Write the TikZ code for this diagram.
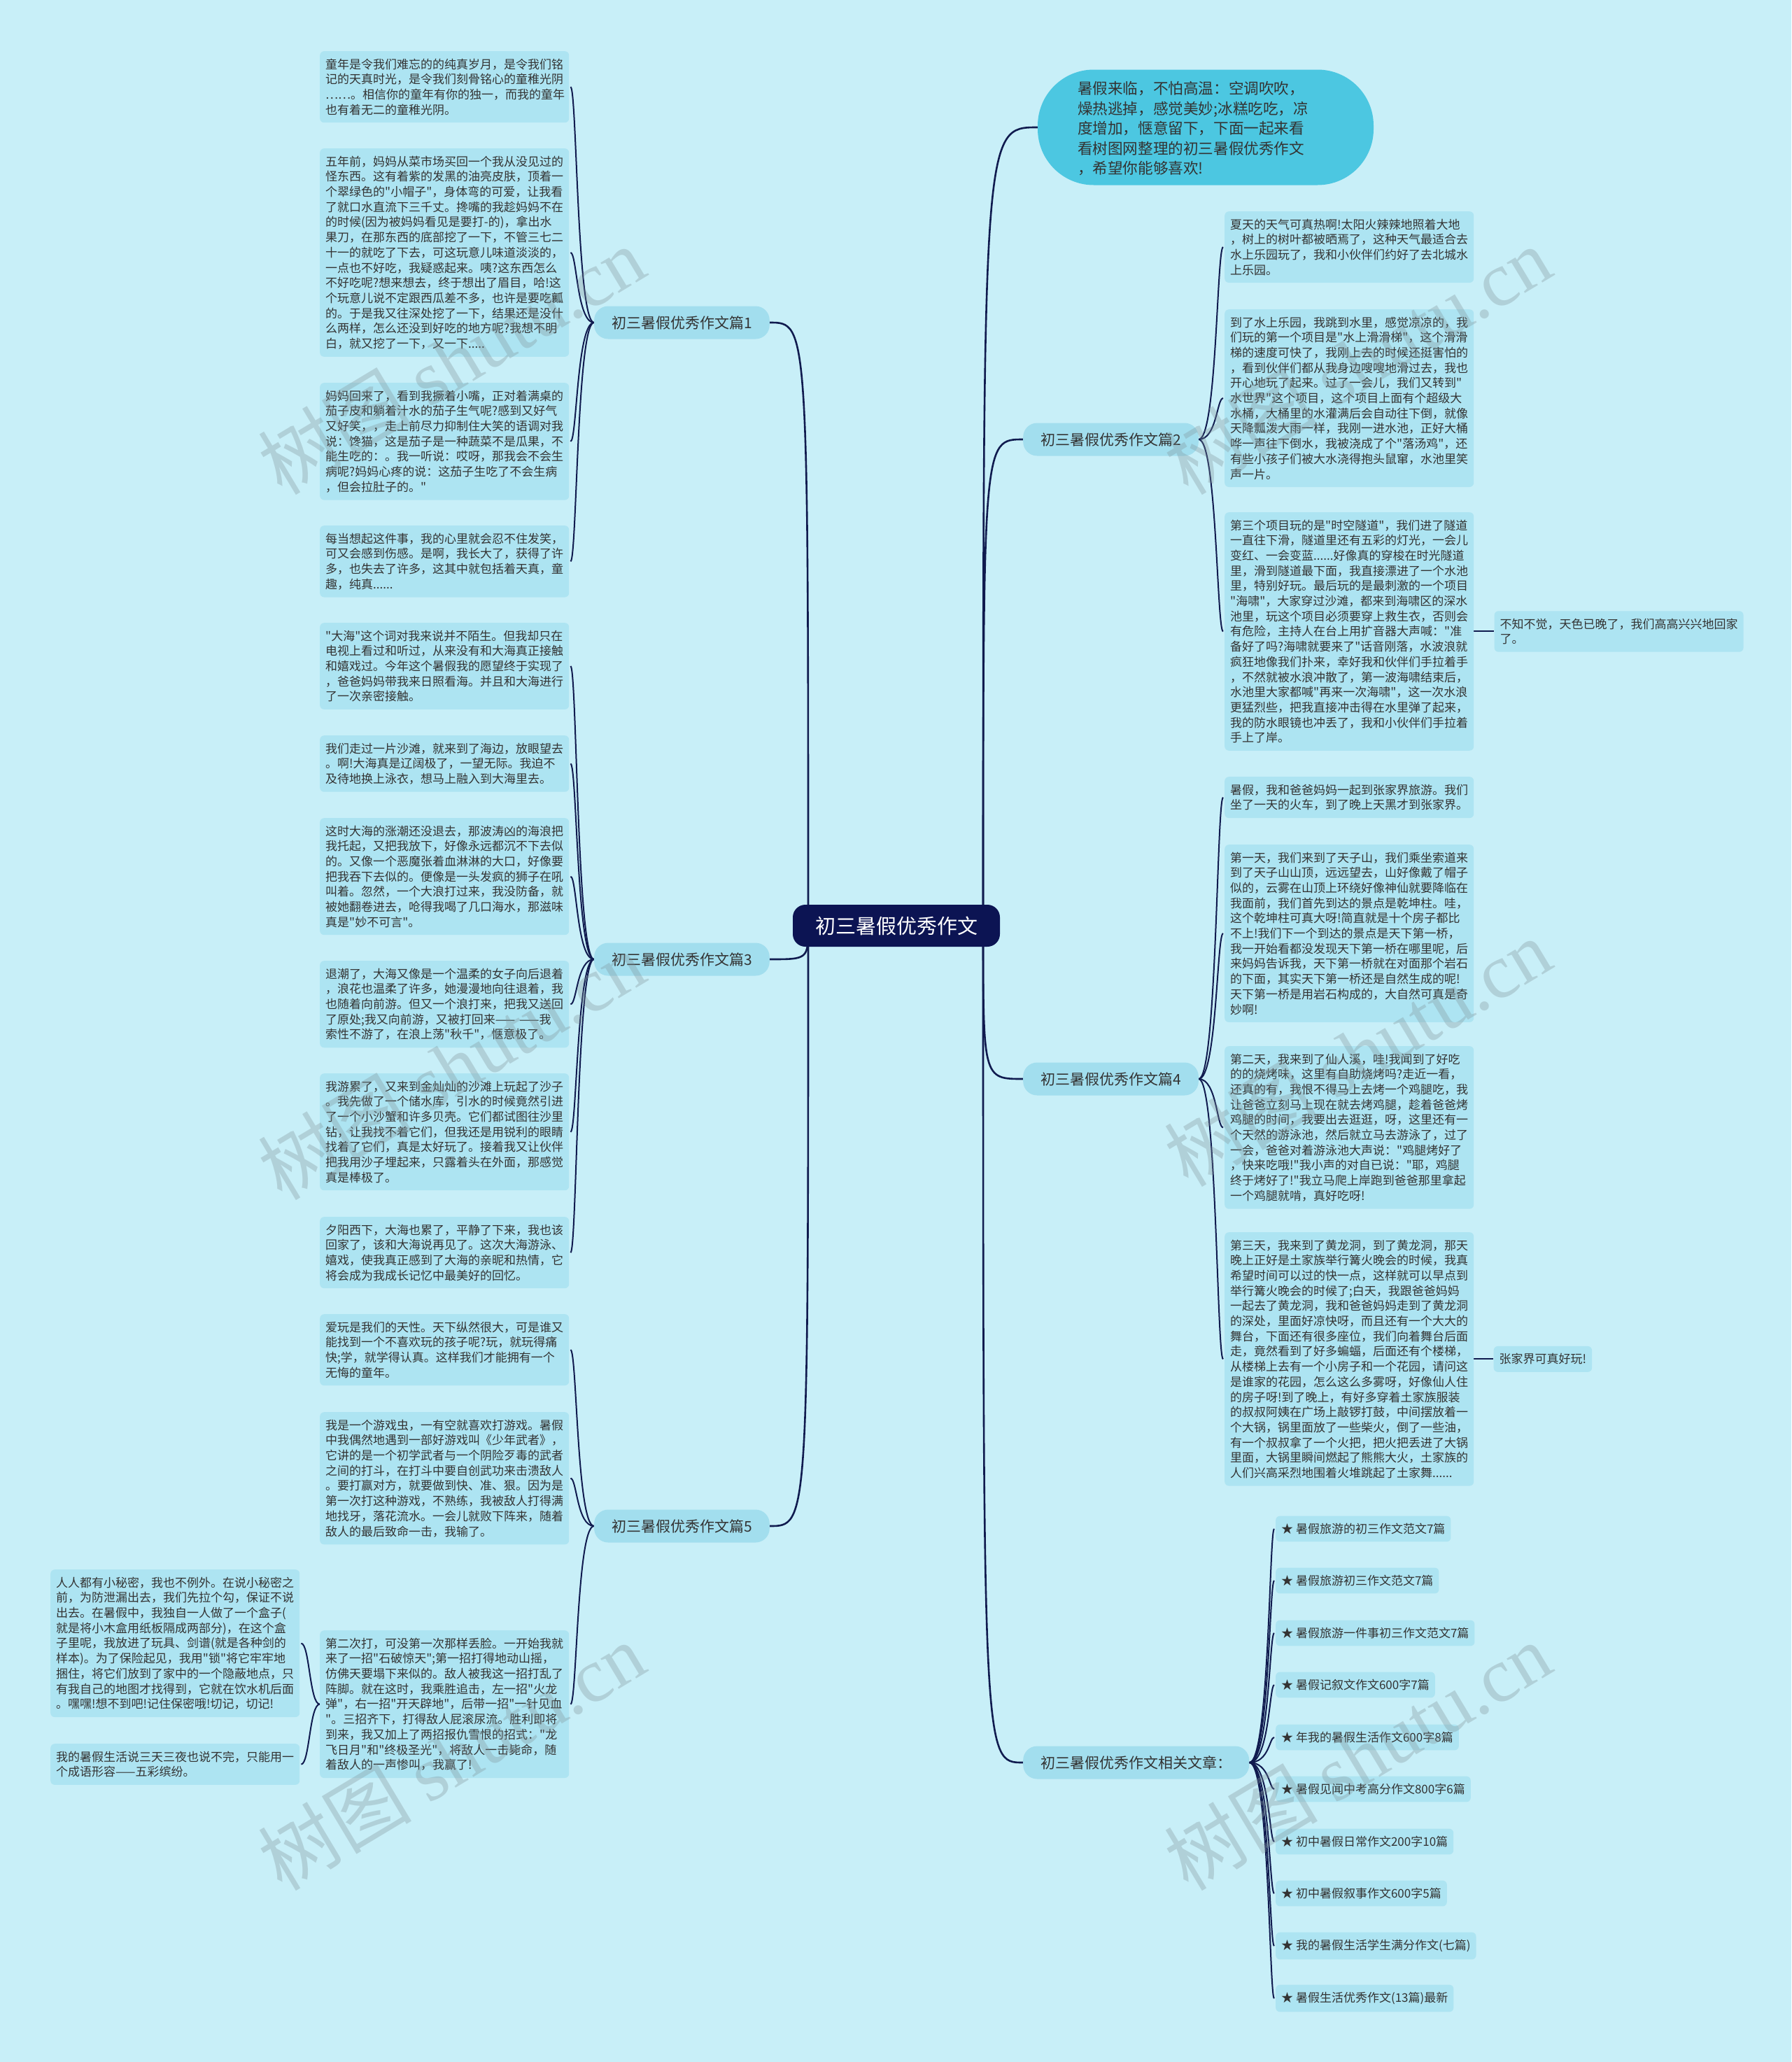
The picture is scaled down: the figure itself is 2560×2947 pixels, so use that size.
\documentclass[tikz,border=0pt]{standalone}
\usepackage{fontspec}
\newfontfamily\cjk{Noto Sans CJK SC}
\newfontfamily\wmserif{Liberation Serif}
\usetikzlibrary{calc}
\definecolor{bgc}{HTML}{C8EFF8}
\definecolor{boxc}{HTML}{ADE4F2}
\definecolor{brc}{HTML}{A2DEEE}
\definecolor{bubc}{HTML}{4CC7E1}
\definecolor{navy}{HTML}{0C1453}
\definecolor{linec}{HTML}{101B4F}
\definecolor{txtc}{HTML}{333333}
\definecolor{wmc}{HTML}{7F9197}
\pgfdeclarelayer{bgl}
\pgfdeclarelayer{lines}
\pgfsetlayers{bgl,lines,main}
\begin{document}
\begin{tikzpicture}[x=1pt,y=-1pt,
 tb/.style={fill=boxc, rounded corners=6pt, text width=340pt, align=left, inner xsep=8pt, inner ysep=10.5pt, font=\cjk\fontsize{17}{21.7}\selectfont, text=txtc, anchor=north west},
 it/.style={fill=boxc, rounded corners=6pt, inner xsep=8pt, inner ysep=10.5pt, font=\cjk\fontsize{17}{21.7}\selectfont, text=txtc, anchor=west},
 br/.style={fill=brc, rounded corners=20pt, minimum height=47pt, inner xsep=25pt, inner ysep=4pt, font=\cjk\fontsize{21}{25}\selectfont, text=txtc},
 cen/.style={fill=navy, rounded corners=18pt, minimum height=60pt, inner xsep=32pt, font=\cjk\fontsize{29}{34}\selectfont, text=white},
 bub/.style={fill=bubc, rounded corners=80pt, minimum width=480pt, minimum height=165pt},
 mainl/.style={draw=linec, line width=2.6pt},
 subl/.style={draw=linec, line width=2pt},
 wm/.style={text=wmc, opacity=0.32, font=\cjk\fontsize{110}{120}\selectfont, rotate=31}
]
\begin{pgfonlayer}{bgl}
\fill[bgc] (0,0) rectangle (2560,2947);
\end{pgfonlayer}
\useasboundingbox (0,0) rectangle (2560,2947);

% centre and branches
\node[cen] (C) at (1281,1323) {初三暑假优秀作文};
\node[br, anchor=east] (B1) at (1100,461) {初三暑假优秀作文篇1};
\node[br, anchor=east] (B3) at (1100,1371) {初三暑假优秀作文篇3};
\node[br, anchor=east] (B5) at (1100,2181) {初三暑假优秀作文篇5};
\node[br, anchor=west] (B2) at (1462,628) {初三暑假优秀作文篇2};
\node[br, anchor=west] (B4) at (1462,1542) {初三暑假优秀作文篇4};
\node[br, anchor=west] (B6) at (1462,2519) {初三暑假优秀作文相关文章：};

% intro bubble
\node[bub] (BB) at (1723,182) {};
\node[align=left, inner sep=0pt, text=txtc, font=\cjk\fontsize{21.6}{28.5}\selectfont] (BBt) at (1705,184) {暑假来临，不怕高温：空调吹吹，\\燥热逃掉，感觉美妙;冰糕吃吃，凉\\度增加，惬意留下，下面一起来看\\看树图网整理的初三暑假优秀作文\\，希望你能够喜欢!};

% left column
\node[tb] (L1) at (457,73) {童年是令我们难忘的的纯真岁月，是令我们铭\\记的天真时光，是令我们刻骨铭心的童稚光阴\\……。相信你的童年有你的独一，而我的童年\\也有着无二的童稚光阴。};
\node[tb] (L2) at (457,212) {五年前，妈妈从菜市场买回一个我从没见过的\\怪东西。这有着紫的发黑的油亮皮肤，顶着一\\个翠绿色的"小帽子"，身体弯的可爱，让我看\\了就口水直流下三千丈。搀嘴的我趁妈妈不在\\的时候(因为被妈妈看见是要打-的)，拿出水\\果刀，在那东西的底部挖了一下，不管三七二\\十一的就吃了下去，可这玩意儿味道淡淡的，\\一点也不好吃，我疑惑起来。咦?这东西怎么\\不好吃呢?想来想去，终于想出了眉目，哈!这\\个玩意儿说不定跟西瓜差不多，也许是要吃瓤\\的。于是我又往深处挖了一下，结果还是没什\\么两样，怎么还没到好吃的地方呢?我想不明\\白，就又挖了一下，又一下.....};
\node[tb] (L3) at (457,547) {妈妈回来了，看到我撅着小嘴，正对着满桌的\\茄子皮和躺着汁水的茄子生气呢?感到又好气\\又好笑，，走上前尽力抑制住大笑的语调对我\\说：馋猫，这是茄子是一种蔬菜不是瓜果，不\\能生吃的：。我一听说：哎呀，那我会不会生\\病呢?妈妈心疼的说：这茄子生吃了不会生病\\，但会拉肚子的。"};
\node[tb] (L4) at (457,751) {每当想起这件事，我的心里就会忍不住发笑，\\可又会感到伤感。是啊，我长大了，获得了许\\多，也失去了许多，这其中就包括着天真，童\\趣，纯真......};
\node[tb] (L5) at (457,890) {"大海"这个词对我来说并不陌生。但我却只在\\电视上看过和听过，从来没有和大海真正接触\\和嬉戏过。今年这个暑假我的愿望终于实现了\\，爸爸妈妈带我来日照看海。并且和大海进行\\了一次亲密接触。};
\node[tb] (L6) at (457,1051) {我们走过一片沙滩，就来到了海边，放眼望去\\。啊!大海真是辽阔极了，一望无际。我迫不\\及待地换上泳衣，想马上融入到大海里去。};
\node[tb] (L7) at (457,1169) {这时大海的涨潮还没退去，那波涛凶的海浪把\\我托起，又把我放下，好像永远都沉不下去似\\的。又像一个恶魔张着血淋淋的大口，好像要\\把我吞下去似的。便像是一头发疯的狮子在吼\\叫着。忽然，一个大浪打过来，我没防备，就\\被她翻卷进去，呛得我喝了几口海水，那滋味\\真是"妙不可言"。};
\node[tb] (L8) at (457,1373) {退潮了，大海又像是一个温柔的女子向后退着\\，浪花也温柔了许多，她漫漫地向往退着，我\\也随着向前游。但又一个浪打来，把我又送回\\了原处;我又向前游，又被打回来—— ——我\\索性不游了，在浪上荡"秋千"，惬意极了。};
\node[tb] (L9) at (457,1534) {我游累了，又来到金灿灿的沙滩上玩起了沙子\\。我先做了一个储水库，引水的时候竟然引进\\了一个小沙蟹和许多贝壳。它们都试图往沙里\\钻，让我找不着它们，但我还是用锐利的眼睛\\找着了它们，真是太好玩了。接着我又让伙伴\\把我用沙子埋起来，只露着头在外面，那感觉\\真是棒极了。};
\node[tb] (L10) at (457,1739) {夕阳西下，大海也累了，平静了下来，我也该\\回家了，该和大海说再见了。这次大海游泳、\\嬉戏，使我真正感到了大海的亲昵和热情，它\\将会成为我成长记忆中最美好的回忆。};
\node[tb] (L11) at (457,1878) {爱玩是我们的天性。天下纵然很大，可是谁又\\能找到一个不喜欢玩的孩子呢?玩，就玩得痛\\快;学，就学得认真。这样我们才能拥有一个\\无悔的童年。};
\node[tb] (L12) at (457,2018) {我是一个游戏虫，一有空就喜欢打游戏。暑假\\中我偶然地遇到一部好游戏叫《少年武者》，\\它讲的是一个初学武者与一个阴险歹毒的武者\\之间的打斗，在打斗中要自创武功来击溃敌人\\。要打赢对方，就要做到快、准、狠。因为是\\第一次打这种游戏，不熟练，我被敌人打得满\\地找牙，落花流水。一会儿就败下阵来，随着\\敌人的最后致命一击，我输了。};
\node[tb] (L13) at (457,2330) {第二次打，可没第一次那样丢脸。一开始我就\\来了一招"石破惊天";第一招打得地动山摇，\\仿佛天要塌下来似的。敌人被我这一招打乱了\\阵脚。就在这时，我乘胜追击，左一招"火龙\\弹"，右一招"开天辟地"，后带一招"一针见血\\"。三招齐下，打得敌人屁滚尿流。胜利即将\\到来，我又加上了两招报仇雪恨的招式："龙\\飞日月"和"终极圣光"，将敌人一击毙命，随\\着敌人的一声惨叫，我赢了!};
\node[tb] (LL1) at (72,2243) {人人都有小秘密，我也不例外。在说小秘密之\\前，为防泄漏出去，我们先拉个勾，保证不说\\出去。在暑假中，我独自一人做了一个盒子(\\就是将小木盒用纸板隔成两部分)，在这个盒\\子里呢，我放进了玩具、剑谱(就是各种剑的\\样本)。为了保险起见，我用"锁"将它牢牢地\\捆住，将它们放到了家中的一个隐蔽地点，只\\有我自己的地图才找得到，它就在饮水机后面\\。嘿嘿!想不到吧!记住保密哦!切记，切记!};
\node[tb] (LL2) at (72,2492) {我的暑假生活说三天三夜也说不完，只能用一\\个成语形容——五彩缤纷。};

% right column
\node[tb] (R1) at (1750,302) {夏天的天气可真热啊!太阳火辣辣地照着大地\\，树上的树叶都被晒焉了，这种天气最适合去\\水上乐园玩了，我和小伙伴们约好了去北城水\\上乐园。};
\node[tb] (R2) at (1750,442) {到了水上乐园，我跳到水里，感觉凉凉的，我\\们玩的第一个项目是"水上滑滑梯"，这个滑滑\\梯的速度可快了，我刚上去的时候还挺害怕的\\，看到伙伴们都从我身边嗖嗖地滑过去，我也\\开心地玩了起来。过了一会儿，我们又转到"\\水世界"这个项目，这个项目上面有个超级大\\水桶，大桶里的水灌满后会自动往下倒，就像\\天降瓢泼大雨一样，我刚一进水池，正好大桶\\哗一声往下倒水，我被浇成了个"落汤鸡"，还\\有些小孩子们被大水浇得抱头鼠窜，水池里笑\\声一片。};
\node[tb] (R3) at (1750,732) {第三个项目玩的是"时空隧道"，我们进了隧道\\一直往下滑，隧道里还有五彩的灯光，一会儿\\变红、一会变蓝......好像真的穿梭在时光隧道\\里，滑到隧道最下面，我直接漂进了一个水池\\里，特别好玩。最后玩的是最刺激的一个项目\\"海啸"，大家穿过沙滩，都来到海啸区的深水\\池里，玩这个项目必须要穿上救生衣，否则会\\有危险，主持人在台上用扩音器大声喊："准\\备好了吗?海啸就要来了"话音刚落，水波浪就\\疯狂地像我们扑来，幸好我和伙伴们手拉着手\\，不然就被水浪冲散了，第一波海啸结束后，\\水池里大家都喊"再来一次海啸"，这一次水浪\\更猛烈些，把我直接冲击得在水里弹了起来，\\我的防水眼镜也冲丢了，我和小伙伴们手拉着\\手上了岸。};
\node[tb, anchor=west] (S1) at ([xshift=29pt]R3.east) {不知不觉，天色已晚了，我们高高兴兴地回家\\了。};
\node[tb] (R4) at (1750,1110) {暑假，我和爸爸妈妈一起到张家界旅游。我们\\坐了一天的火车，到了晚上天黑才到张家界。};
\node[tb] (R5) at (1750,1207) {第一天，我们来到了天子山，我们乘坐索道来\\到了天子山山顶，远远望去，山好像戴了帽子\\似的，云雾在山顶上环绕好像神仙就要降临在\\我面前，我们首先到达的景点是乾坤柱。哇，\\这个乾坤柱可真大呀!简直就是十个房子都比\\不上!我们下一个到达的景点是天下第一桥，\\我一开始看都没发现天下第一桥在哪里呢，后\\来妈妈告诉我，天下第一桥就在对面那个岩石\\的下面，其实天下第一桥还是自然生成的呢!\\天下第一桥是用岩石构成的，大自然可真是奇\\妙啊!};
\node[tb] (R6) at (1750,1495) {第二天，我来到了仙人溪，哇!我闻到了好吃\\的的烧烤味，这里有自助烧烤吗?走近一看，\\还真的有，我恨不得马上去烤一个鸡腿吃，我\\让爸爸立刻马上现在就去烤鸡腿，趁着爸爸烤\\鸡腿的时间，我要出去逛逛，呀，这里还有一\\个天然的游泳池，然后就立马去游泳了，过了\\一会，爸爸对着游泳池大声说："鸡腿烤好了\\，快来吃哦!"我小声的对自已说："耶，鸡腿\\终于烤好了!"我立马爬上岸跑到爸爸那里拿起\\一个鸡腿就啃，真好吃呀!};
\node[tb] (R7) at (1750,1761) {第三天，我来到了黄龙洞，到了黄龙洞，那天\\晚上正好是土家族举行篝火晚会的时候，我真\\希望时间可以过的快一点，这样就可以早点到\\举行篝火晚会的时候了;白天，我跟爸爸妈妈\\一起去了黄龙洞，我和爸爸妈妈走到了黄龙洞\\的深处，里面好凉快呀，而且还有一个大大的\\舞台，下面还有很多座位，我们向着舞台后面\\走，竟然看到了好多蝙蝠，后面还有个楼梯，\\从楼梯上去有一个小房子和一个花园，请问这\\是谁家的花园，怎么这么多雾呀，好像仙人住\\的房子呀!到了晚上，有好多穿着土家族服装\\的叔叔阿姨在广场上敲锣打鼓，中间摆放着一\\个大锅，锅里面放了一些柴火，倒了一些油，\\有一个叔叔拿了一个火把，把火把丢进了大锅\\里面，大锅里瞬间燃起了熊熊大火，土家族的\\人们兴高采烈地围着火堆跳起了土家舞......};
\node[it] (S2) at ([xshift=28pt]R7.east) {张家界可真好玩!};

% related articles
\node[it] (A1) at (1823,2185) {★ 暑假旅游的初三作文范文7篇};
\node[it] (A2) at (1823,2259) {★ 暑假旅游初三作文范文7篇};
\node[it] (A3) at (1823,2334) {★ 暑假旅游一件事初三作文范文7篇};
\node[it] (A4) at (1823,2408) {★ 暑假记叙文作文600字7篇};
\node[it] (A5) at (1823,2483) {★ 年我的暑假生活作文600字8篇};
\node[it] (A6) at (1823,2557) {★ 暑假见闻中考高分作文800字6篇};
\node[it] (A7) at (1823,2632) {★ 初中暑假日常作文200字10篇};
\node[it] (A8) at (1823,2706) {★ 初中暑假叙事作文600字5篇};
\node[it] (A9) at (1823,2781) {★ 我的暑假生活学生满分作文(七篇)};
\node[it] (A10) at (1823,2856) {★ 暑假生活优秀作文(13篇)最新};

% connectors
\begin{pgfonlayer}{lines}
\coordinate (CL) at (1155,1323);
\coordinate (CR) at (1405,1323);
\foreach \b in {B1,B3,B5}
  \draw[mainl] (CL) .. controls (CL |- \b.east) .. (\b.east);
\foreach \b in {B2,B4,B6}
  \draw[mainl] (CR) .. controls (CR |- \b.west) .. (\b.west);
\draw[mainl] (CR) .. controls (CR |- BB.west) .. (BB.west);
\foreach \t in {L1,L2,L3,L4}
  \draw[subl] (B1.west) .. controls ([xshift=11pt]\t.east |- B1.west) and ([xshift=11pt]\t.east) .. ([xshift=2pt]\t.east);
\foreach \t in {L5,L6,L7,L8,L9,L10}
  \draw[subl] (B3.west) .. controls ([xshift=11pt]\t.east |- B3.west) and ([xshift=11pt]\t.east) .. ([xshift=2pt]\t.east);
\foreach \t in {L11,L12,L13}
  \draw[subl] (B5.west) .. controls ([xshift=11pt]\t.east |- B5.west) and ([xshift=11pt]\t.east) .. ([xshift=2pt]\t.east);
\foreach \t in {LL1,LL2}
  \draw[subl] (L13.west) .. controls ([xshift=14pt]\t.east |- L13.west) and ([xshift=14pt]\t.east) .. ([xshift=2pt]\t.east);
\foreach \t in {R1,R2,R3}
  \draw[subl] (B2.east) .. controls ([xshift=-11pt]\t.west |- B2.east) and ([xshift=-11pt]\t.west) .. ([xshift=-2pt]\t.west);
\foreach \t in {R4,R5,R6,R7}
  \draw[subl] (B4.east) .. controls ([xshift=-11pt]\t.west |- B4.east) and ([xshift=-11pt]\t.west) .. ([xshift=-2pt]\t.west);
\foreach \t in {A1,A2,A3,A4,A5,A6,A7,A8,A9,A10}
  \draw[subl] (B6.east) .. controls ([xshift=-9pt]\t.west |- B6.east) and ([xshift=-9pt]\t.west) .. ([xshift=-2pt]\t.west);
\draw[subl] (R3.east) -- (S1.west);
\draw[subl] (R7.east) -- (S2.west);
\end{pgfonlayer}

% watermarks
\node[wm] (W1) at (645,515) {树图 {\wmserif shutu.cn}};
\node[wm] (W2) at (1940,515) {树图 {\wmserif shutu.cn}};
\node[wm] (W3) at (645,1523) {树图 {\wmserif shutu.cn}};
\node[wm] (W4) at (1940,1504) {树图 {\wmserif shutu.cn}};
\node[wm] (W5) at (645,2510) {树图 {\wmserif shutu.cn}};
\node[wm] (W6) at (1940,2510) {树图 {\wmserif shutu.cn}};
\end{tikzpicture}
\end{document}
